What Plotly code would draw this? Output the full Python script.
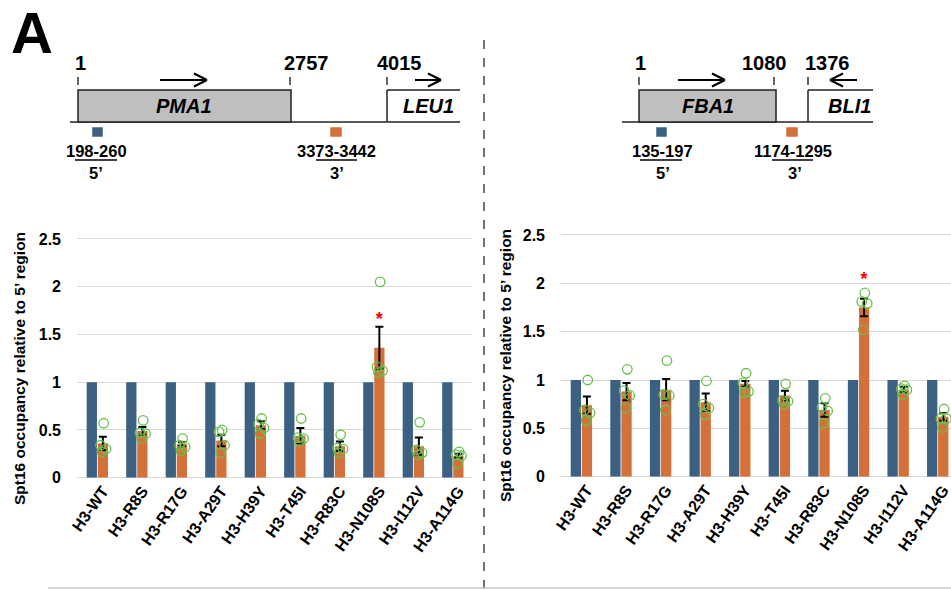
import plotly.graph_objects as go

W, H = 951, 590
FONT = "Liberation Sans, Arial, sans-serif"

# ---------------- data ----------------
categories = ["H3-WT", "H3-R8S", "H3-R17G", "H3-A29T", "H3-H39Y",
              "H3-T45I", "H3-R83C", "H3-N108S", "H3-I112V", "H3-A114G"]

pma1_5p = [1, 1, 1, 1, 1, 1, 1, 1, 1, 1]
pma1_3p = [0.36, 0.49, 0.35, 0.39, 0.55, 0.44, 0.33, 1.36, 0.33, 0.23]
pma1_err = [0.07, 0.04, 0.02, 0.06, 0.04, 0.08, 0.05, 0.22, 0.09, 0.02]
pma1_pts = [[0.57, 0.34, 0.30, 0.27], [0.60, 0.47, 0.46, 0.41], [0.41, 0.34, 0.32, 0.28],
            [0.50, 0.48, 0.34, 0.26], [0.62, 0.56, 0.52, 0.46], [0.62, 0.42, 0.41, 0.38],
            [0.45, 0.31, 0.30, 0.26], [2.05, 1.16, 1.12, 1.10], [0.58, 0.29, 0.26, 0.24],
            [0.27, 0.24, 0.23, 0.15]]
pma1_star = {"H3-N108S": 1.65}

fba1_5p = [1, 1, 1, 1, 1, 1, 1, 1, 1, 1]
fba1_3p = [0.74, 0.88, 0.90, 0.77, 0.96, 0.84, 0.69, 1.75, 0.90, 0.62]
fba1_err = [0.09, 0.09, 0.11, 0.09, 0.03, 0.05, 0.07, 0.09, 0.03, 0.04]
fba1_pts = [[1.00, 0.69, 0.66, 0.58], [1.11, 0.89, 0.84, 0.71], [1.20, 0.85, 0.84, 0.69],
            [0.99, 0.75, 0.71, 0.64], [1.07, 0.97, 0.88, 0.87], [0.96, 0.79, 0.78, 0.75],
            [0.81, 0.72, 0.68, 0.55], [1.90, 1.81, 1.79, 1.52], [0.94, 0.91, 0.90, 0.85],
            [0.70, 0.60, 0.60, 0.51]]
fba1_star = {"H3-N108S": 2.03}

y_ticks = [0, 0.5, 1, 1.5, 2, 2.5]
y_ticktext = ["0", "0.5", "1", "1.5", "2", "2.5"]
y_title = "Spt16 occupancy relative to 5’ region"

left_gene_labels = ["1", "2757", "4015"]
left_region_labels = ["198-260", "3373-3442"]
right_gene_labels = ["1", "1080", "1376"]
right_region_labels = ["135-197", "1174-1295"]

# ---------------- style ----------------
BLUE = "#3b6081"
ORANGE = "#d4713a"
GREEN = "#6abf4b"
GRID = "#d9d9d9"
BW = 0.26
BLUE_OFF = -0.255
ORANGE_OFF = 0.025
JITTER = [0.02, -0.06, 0.08, -0.02]


def px(x):
    return x / W


def py(y):
    return 1 - y / H


fig = go.Figure()


def add_panel(xa, ya, v5, v3, err, pts, star):
    xs = list(range(len(categories)))
    fig.add_trace(go.Bar(x=xs, y=v5, width=BW, offset=BLUE_OFF, marker_color=BLUE,
                         marker_line_width=0, xaxis=xa, yaxis=ya))
    fig.add_trace(go.Bar(x=xs, y=v3, width=BW, offset=ORANGE_OFF, marker_color=ORANGE,
                         marker_line_width=0, xaxis=xa, yaxis=ya,
                         error_y=dict(type="data", array=err, color="black",
                                      thickness=2, width=4)))
    oc = ORANGE_OFF + BW / 2
    px_, py_ = [], []
    for i, arr in enumerate(pts):
        for j, v in enumerate(arr):
            px_.append(i + oc + JITTER[j % len(JITTER)])
            py_.append(v)
    fig.add_trace(go.Scatter(x=px_, y=py_, mode="markers", xaxis=xa, yaxis=ya,
                             marker=dict(symbol="circle-open", size=9.5, color=GREEN,
                                         line=dict(width=1.3, color=GREEN))))
    sx = [categories.index(k) + oc for k in star]
    sy = list(star.values())
    fig.add_trace(go.Scatter(x=sx, y=sy, mode="text", text=["*"] * len(sx),
                             textfont=dict(color="red", size=18, family=FONT, weight="bold"),
                             xaxis=xa, yaxis=ya))


add_panel("x", "y", pma1_5p, pma1_3p, pma1_err, pma1_pts, pma1_star)
add_panel("x2", "y2", fba1_5p, fba1_3p, fba1_err, fba1_pts, fba1_star)

xcommon = dict(tickmode="array", tickvals=list(range(len(categories))), ticktext=categories,
               tickangle=-55, showgrid=False, zeroline=False, showline=False, ticks="",
               automargin=False, ticklabelshift=6, ticklabeloverflow="allow",
               tickfont=dict(family=FONT, size=16, color="black", weight="bold"))
ycommon = dict(tickmode="array", tickvals=y_ticks, ticktext=y_ticktext, range=[0, 2.6],
               showgrid=True, gridcolor=GRID, gridwidth=1, zeroline=True, zerolinecolor=GRID,
               zerolinewidth=1, showline=False, ticks="", ticklabelstandoff=15,
               automargin=False,
               tickfont=dict(family=FONT, size=16, color="black", weight="bold"))

fig.update_layout(
    width=W, height=H, margin=dict(l=0, r=0, t=0, b=0, autoexpand=False),
    paper_bgcolor="white", plot_bgcolor="white", showlegend=False,
    barmode="overlay",
    xaxis=dict(domain=[px(77), px(472)], range=[-0.5, 9.5], anchor="y", **xcommon),
    yaxis=dict(domain=[py(477.7), py(477.7 - 2.6 * 95.5)], anchor="x", **ycommon),
    xaxis2=dict(domain=[px(561), 1], range=[-0.5, 9.35], anchor="y2", **xcommon),
    yaxis2=dict(domain=[py(476.7), py(476.7 - 2.6 * 96.7)], anchor="x2", **ycommon),
)

shapes = []
annos = []


def line(x0, y0, x1, y1, color="#222", width=1.5, dash=None):
    d = dict(type="line", xref="paper", yref="paper", x0=px(x0), y0=py(y0), x1=px(x1), y1=py(y1),
             line=dict(color=color, width=width))
    if dash:
        d["line"]["dash"] = dash
    shapes.append(d)


def rect(x0, y0, x1, y1, fill, lc="#222"):
    shapes.append(dict(type="rect", xref="paper", yref="paper", x0=px(x0), y0=py(y0),
                       x1=px(x1), y1=py(y1), fillcolor=fill, line=dict(color=lc, width=1.5)))


def text(x, y, s, size, italic=False, bold=True, color="black", angle=0):
    t = s
    if italic:
        t = "<i>" + t + "</i>"
    annos.append(dict(xref="paper", yref="paper", x=px(x), y=py(y), text=t, showarrow=False,
                      xanchor="center", yanchor="middle", textangle=angle,
                      font=dict(family=FONT, size=size, color=color,
                                weight="bold" if bold else "normal")))


def arrow(x0, x1, y):
    d = 1 if x1 > x0 else -1
    line(x0, y, x1, y, color="black", width=2)
    line(x1 - d * 13, y - 6.5, x1, y, color="black", width=2)
    line(x1 - d * 13, y + 6.5, x1, y, color="black", width=2)


# panel letter
text(32, 32, "A", 58)

GL = 20   # gene/coordinate label size
RL = 16.5  # region label size

# ---- left diagram (PMA1 / LEU1) ----
line(70, 122, 460, 122)
rect(78, 90, 291, 122, "#bfbfbf")
line(387, 122, 387, 90)
line(387, 90, 460, 90)
for x in (78, 290, 387):
    line(x, 77, x, 85, color="black", width=1.2)
for s, x in zip(left_gene_labels, (80, 306, 399)):
    text(x, 63, s, GL)
arrow(160, 207, 80)
arrow(415, 441, 80)
text(184, 106, "PMA1", GL, italic=True)
text(428, 106, "LEU1", GL, italic=True)
rect(93, 128, 102, 136, BLUE, lc=BLUE)
rect(331, 128, 341, 136, ORANGE, lc=ORANGE)
text(96, 151, left_region_labels[0], RL)
text(336, 151, left_region_labels[1], RL)
line(75, 160, 117, 160, color="black", width=1.5)
line(316, 160, 357, 160, color="black", width=1.5)
text(96, 173, "5’", RL)
text(337, 173, "3’", RL)

# ---- right diagram (FBA1 / BLI1) ----
line(622, 122, 873, 122)
rect(639, 90, 776, 122, "#bfbfbf")
line(808, 122, 808, 90)
line(808, 90, 873, 90)
for x in (639, 774, 808):
    line(x, 77, x, 85, color="black", width=1.2)
for s, x in zip(right_gene_labels, (640, 764, 827)):
    text(x, 63, s, GL)
arrow(678, 725, 80)
arrow(857, 830, 80)
text(708, 106, "FBA1", GL, italic=True)
text(849, 106, "BLI1", GL, italic=True)
rect(657, 128, 666, 136, BLUE, lc=BLUE)
rect(787, 128, 797, 136, ORANGE, lc=ORANGE)
text(662, 151, right_region_labels[0], RL)
text(793, 151, right_region_labels[1], RL)
line(640, 160, 682, 160, color="black", width=1.5)
line(772, 160, 813, 160, color="black", width=1.5)
text(663, 173, "5’", RL)
text(795, 173, "3’", RL)

# y titles
text(19, 369, y_title, 15.5, angle=-90)
text(505, 366, y_title, 15.5, angle=-90)

# separators
line(484, 40, 484, 590, color="#444", width=1.5, dash="dash")
line(48, 588, 951, 588, color="#c8c8c8", width=1.5)

fig.update_layout(shapes=shapes, annotations=annos)
fig.write_html("out.html", config={"displayModeBar": False},
               post_script="document.body.style.margin='0';document.body.style.overflow='hidden';")
